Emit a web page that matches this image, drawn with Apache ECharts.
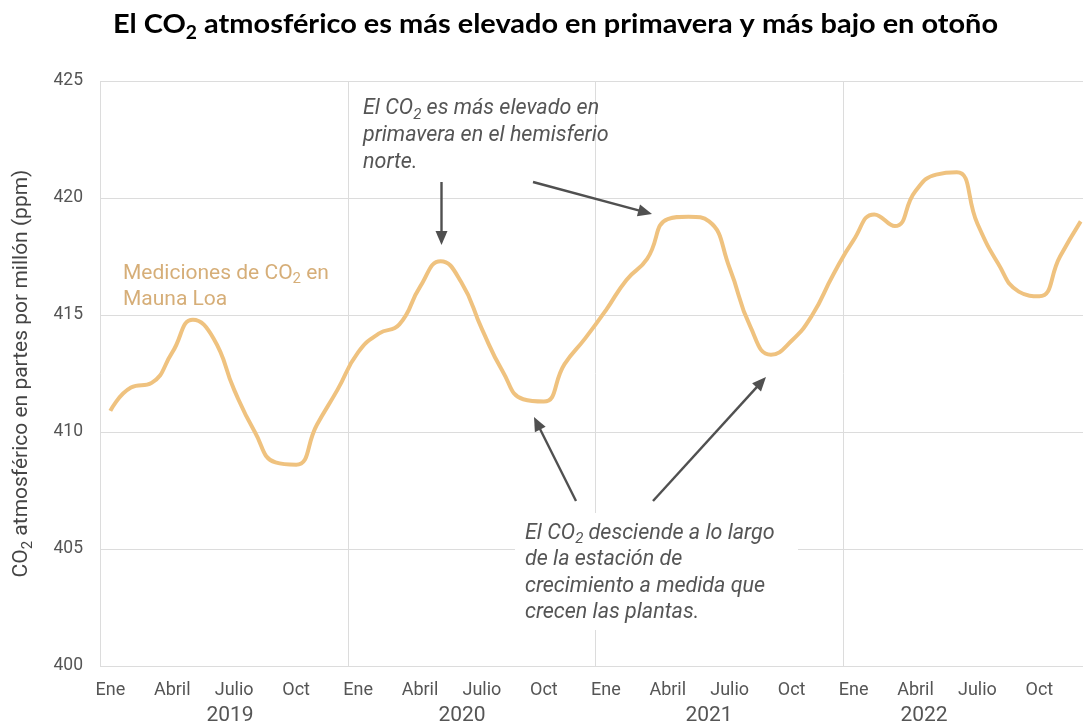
<!DOCTYPE html>
<html>
<head>
<meta charset="utf-8">
<script src="https://cdn.jsdelivr.net/npm/echarts@6/dist/echarts.min.js"></script>
<style>
html,body{margin:0;padding:0;background:#fff;}
#chart{width:1083px;height:727px;}
</style>
</head>
<body>
<div id="chart"></div>
<script>
// ---- data ----
const monthNames = ['Ene','Feb','Mar','Abril','May','Jun','Julio','Ago','Sep','Oct','Nov','Dic'];
const years = ['2019','2020','2021','2022'];
const co2_2019 = [410.9, 411.9, 412.1, 413.4, 414.8, 414.0, 411.8, 410.0, 408.7, 408.6, 410.3, 411.8];
const co2_2020 = [413.4, 414.2, 414.6, 416.2, 417.3, 416.4, 414.4, 412.6, 411.4, 411.3, 412.9, 414.0];
const co2_2021 = [415.2, 416.5, 417.4, 419.1, 419.2, 419.0, 417.0, 414.5, 413.3, 413.9, 415.0, 416.7];
const co2_2022 = [418.2, 419.3, 418.8, 420.3, 421.0, 421.1, 418.9, 417.2, 416.0, 415.8, 417.5, 419.0];
const yTicks = {min: 400, max: 425, step: 5};

const categories = [];
years.forEach(y => monthNames.forEach(m => categories.push(m + ' ' + y)));
const values = [].concat(co2_2019, co2_2020, co2_2021, co2_2022);

// ---- chart ----
const chart = echarts.init(document.getElementById('chart'), null, {renderer: 'canvas'});

const GREY = '#555';
const LINE = '#efc27f';
const LABEL = '#d6ae78';

// title measurement for condensed look
const ctx = document.createElement('canvas').getContext('2d');
ctx.font = 'bold 27px Lato';
let tw = ctx.measureText('El CO').width + ctx.measureText(' atmosférico es más elevado en primavera y más bajo en otoño').width;
ctx.font = 'bold 18px Lato';
tw += ctx.measureText('2').width;
const titleScale = 885 / tw;

function arrow(x1, y1, x2, y2) {
  const dx = x2 - x1, dy = y2 - y1, L = Math.hypot(dx, dy);
  const ux = dx / L, uy = dy / L, hl = 14, hw = 6;
  const bx = x2 - ux * hl, by = y2 - uy * hl;
  return [
    {type: 'line', z: 100, shape: {x1: x1, y1: y1, x2: bx + ux * 2, y2: by + uy * 2}, style: {stroke: '#505050', lineWidth: 2.4}},
    {type: 'polygon', z: 100, shape: {points: [[x2, y2], [bx - uy * hw, by + ux * hw], [bx + uy * hw, by - ux * hw]]}, style: {fill: '#505050'}}
  ];
}

const italic = {fontSize: 21.5, fontFamily: 'Roboto', fontStyle: 'italic', fill: GREY, lineHeight: 27};
const italicSub = {fontSize: 15, fontFamily: 'Roboto', fontStyle: 'italic', fill: GREY, verticalAlign: 'bottom'};

const graphics = [
  {type: 'text', x: 113, y: 24, scaleX: titleScale, z: 100,
   style: {text: '{b|El CO}{s|2}{b| atmosférico es más elevado en primavera y más bajo en otoño}',
           align: 'left', verticalAlign: 'middle', textAlign: 'left', textVerticalAlign: 'middle',
           rich: {b: {fontSize: 27, fontFamily: 'Lato', fontWeight: 'bold', fill: '#000', lineHeight: 36},
                  s: {fontSize: 18, fontFamily: 'Lato', fontWeight: 'bold', fill: '#000', verticalAlign: 'bottom'}}}},
  {type: 'text', x: 123, y: 287, z: 100,
   style: {text: '{a|Mediciones de CO}{s|2}{a| en}\n{a|Mauna Loa}',
           align: 'left', verticalAlign: 'middle', textAlign: 'left', textVerticalAlign: 'middle',
           rich: {a: {fontSize: 21, fontFamily: 'Roboto', fill: LABEL, lineHeight: 26},
                  s: {fontSize: 15, fontFamily: 'Roboto', fill: LABEL, verticalAlign: 'bottom'}}}},
  {type: 'text', x: 363, y: 136, z: 100,
   style: {text: '{i|El CO}{s|2}{i| es más elevado en}\n{i|primavera en el hemisferio}\n{i|norte.}',
           align: 'left', verticalAlign: 'middle', textAlign: 'left', textVerticalAlign: 'middle',
           rich: {i: italic, s: italicSub}}},
  {type: 'rect', z: 90, shape: {x: 515, y: 513, width: 283, height: 117}, style: {fill: '#fff'}},
  {type: 'text', x: 525, y: 573, z: 100,
   style: {text: '{i|El CO}{s|2}{i| desciende a lo largo}\n{i|de la estación de}\n{i|crecimiento a medida que}\n{i|crecen las plantas.}',
           align: 'left', verticalAlign: 'middle', textAlign: 'left', textVerticalAlign: 'middle',
           rich: {i: Object.assign({}, italic, {lineHeight: 26.5}), s: italicSub}}}
];
[[230, years[0]], [462, years[1]], [709, years[2]], [924, years[3]]].forEach(p => {
  graphics.push({type: 'text', x: p[0], y: 716, z: 100,
    style: {text: p[1], fontSize: 21, fontFamily: 'Roboto', fill: GREY,
            align: 'center', verticalAlign: 'middle', textAlign: 'center', textVerticalAlign: 'middle'}});
});
[].concat(
  arrow(441.5, 182, 441.5, 245),
  arrow(533, 182, 652, 214),
  arrow(576, 501, 534, 417),
  arrow(653, 501, 766, 377)
).forEach(g => graphics.push(g));

const option = {
  backgroundColor: '#fff',
  animation: false,
  grid: {left: 100, right: -8, top: 81, bottom: 61, containLabel: false, outerBoundsMode: 'none'},
  xAxis: {
    type: 'category',
    data: categories,
    boundaryGap: true,
    axisLine: {show: false},
    axisTick: {show: false},
    axisLabel: {
      interval: (i) => i % 3 === 0,
      formatter: (v) => v.split(' ')[0],
      color: GREY, fontSize: 18, fontFamily: 'Roboto', margin: 15
    },
    splitLine: {show: true, interval: (i) => i % 12 === 0, lineStyle: {color: '#dcdcdc', width: 1}}
  },
  yAxis: {
    type: 'value',
    min: yTicks.min, max: yTicks.max, interval: yTicks.step,
    axisLine: {show: false},
    axisTick: {show: false},
    axisLabel: {color: GREY, fontSize: 17.5, fontFamily: 'Roboto', margin: 17},
    splitLine: {lineStyle: {color: '#dcdcdc', width: 1}},
    name: '{a|CO}{s|2}{a| atmosférico en partes por millón (ppm)}',
    nameLocation: 'middle',
    nameRotate: 90,
    nameGap: 64,
    nameTextStyle: {
      rich: {a: {fontSize: 21, fontFamily: 'Roboto', color: '#444', lineHeight: 28},
             s: {fontSize: 15, fontFamily: 'Roboto', color: '#444', verticalAlign: 'bottom'}}
    }
  },
  series: [{
    type: 'line',
    data: values,
    smooth: 0.5,
    symbol: 'none',
    lineStyle: {color: LINE, width: 4},
    z: 5
  }],
  graphic: {elements: graphics}
};
chart.setOption(option);
</script>
</body>
</html>
